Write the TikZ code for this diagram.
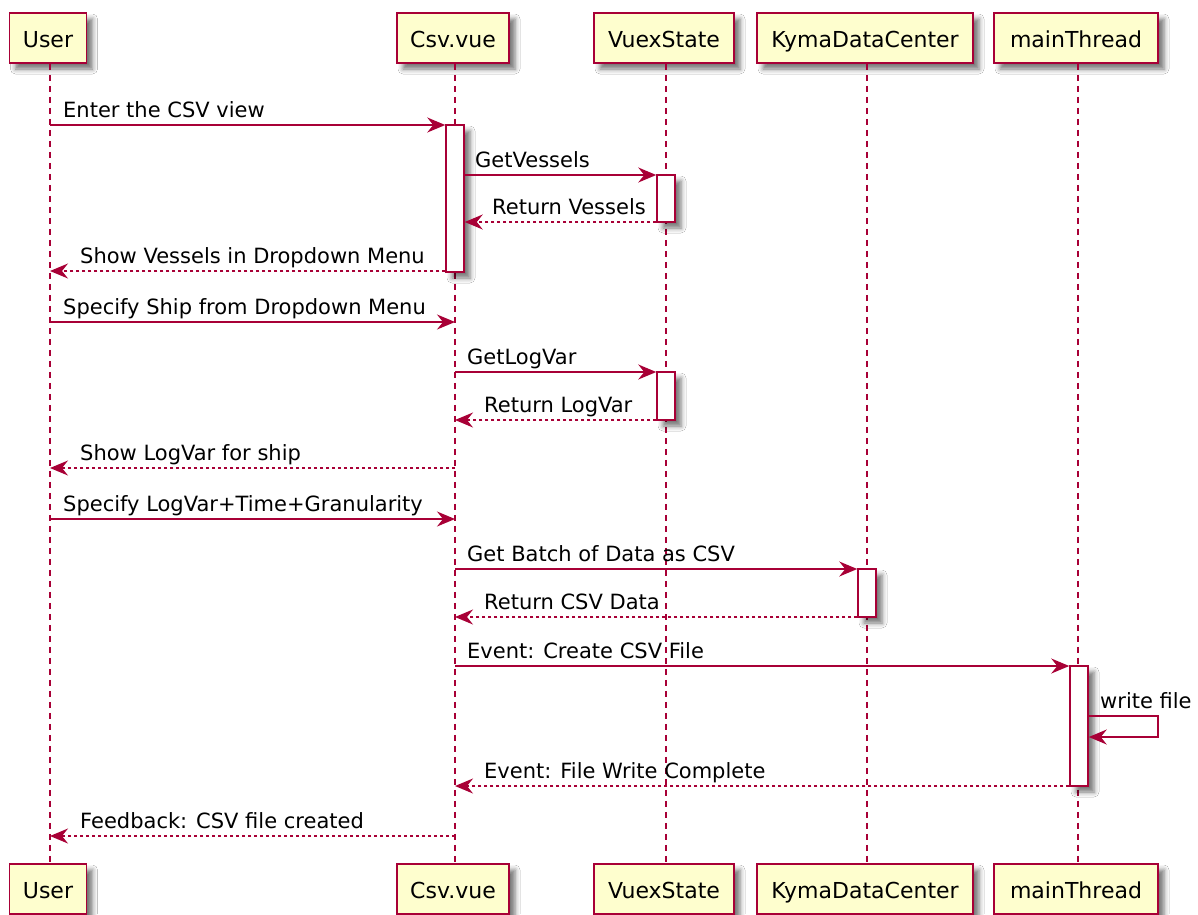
\documentclass[tikz,border=0pt]{standalone}
\usepackage{fontspec}
\setmainfont{DejaVu Sans}
\usetikzlibrary{arrows.meta,shadows.blur}
\definecolor{pborder}{HTML}{A80036}
\definecolor{pfill}{HTML}{FEFECE}
\begin{document}
\begin{tikzpicture}[x=1pt,y=-1pt,
  shad/.style={blur shadow={shadow xshift=6pt, shadow yshift=-6pt, shadow blur radius=5pt, shadow opacity=55}},
  part/.style={shad, draw=pborder, fill=pfill, line width=1.8pt, minimum height=50pt, inner sep=0pt, text height=20pt, text depth=2pt, font=\fontsize{22}{26}\selectfont},
  act/.style={shad, draw=pborder, fill=white, line width=1.5pt, minimum width=18pt, inner sep=0pt},
  life/.style={draw=pborder, line width=1.5pt, dash pattern=on 6pt off 5pt},
  msg/.style={draw=pborder, line width=1.5pt, -{Stealth[length=18pt,width=15pt,inset=6pt]}},
  ret/.style={msg, dash pattern=on 3pt off 3pt},
  lbl/.style={inner sep=0pt, font=\fontsize{21}{24}\selectfont}
]
\fill[white] (0,0) rectangle (1198,914);
\useasboundingbox (0,0) rectangle (1198,914);
% participants
\node[part, minimum width=77pt]  (u)  at (48,38)   {User};
\node[part, minimum width=112pt] (c)  at (453,38)  {Csv.vue};
\node[part, minimum width=140pt] (v)  at (664,38)  {VuexState};
\node[part, minimum width=216pt] (k)  at (865,38)  {KymaDataCenter};
\node[part, minimum width=164pt] (m)  at (1076,38) {mainThread};
\node[part, minimum width=77pt]  (ub) at (48,889)   {User};
\node[part, minimum width=112pt] (cb) at (453,889)  {Csv.vue};
\node[part, minimum width=140pt] (vb) at (664,889)  {VuexState};
\node[part, minimum width=216pt] (kb) at (865,889)  {KymaDataCenter};
\node[part, minimum width=164pt] (mb) at (1076,889) {mainThread};
% lifelines
\draw[life] (u.south -| 50,0) -- (ub.north -| 50,0);
\draw[life] (c.south -| 455,0) -- (cb.north -| 455,0);
\draw[life] (v.south -| 666,0) -- (vb.north -| 666,0);
\draw[life] (k.south -| 867,0) -- (kb.north -| 867,0);
\draw[life] (m.south -| 1078,0) -- (mb.north -| 1078,0);
% activations
\node[act, minimum height=147pt] (a1) at (455,198.5) {};
\node[act, minimum height=47pt]  (a2) at (666,198.5) {};
\node[act, minimum height=48pt]  (a3) at (666,396) {};
\node[act, minimum height=48pt]  (a4) at (867,593) {};
\node[act, minimum height=120pt] (a5) at (1079,726) {};
% messages
\draw[msg] (50,125) -- (a1.west |- 0,125);
\node[lbl, anchor=base west] at (63,117) {Enter the CSV view};
\draw[msg] (a1.east |- 0,175) -- (a2.west |- 0,175);
\node[lbl, anchor=base west] at (475,167) {GetVessels};
\draw[ret] (a2.west |- 0,222) -- (a1.east |- 0,222);
\node[lbl, anchor=base west] at (492,214) {Return Vessels};
\draw[ret] (a1.west |- 0,271) -- (50,271);
\node[lbl, anchor=base west] at (80,263) {Show Vessels in Dropdown Menu};
\draw[msg] (50,322) -- (455,322);
\node[lbl, anchor=base west] at (63,314) {Specify Ship from Dropdown Menu};
\draw[msg] (455,372) -- (a3.west |- 0,372);
\node[lbl, anchor=base west] at (467,364) {GetLogVar};
\draw[ret] (a3.west |- 0,420) -- (455,420);
\node[lbl, anchor=base west] at (484,412) {Return LogVar};
\draw[ret] (455,468) -- (50,468);
\node[lbl, anchor=base west] at (80,460) {Show LogVar for ship};
\draw[msg] (50,519) -- (455,519);
\node[lbl, anchor=base west] at (63,511) {Specify LogVar+Time+Granularity};
\draw[msg] (455,569) -- (a4.west |- 0,569);
\node[lbl, anchor=base west] at (467,561) {Get Batch of Data as CSV};
\draw[ret] (a4.west |- 0,617) -- (455,617);
\node[lbl, anchor=base west] at (484,609) {Return CSV Data};
\draw[msg] (455,666) -- (a5.west |- 0,666);
\node[lbl, anchor=base west] at (467,658) {Event: Create CSV File};
\draw[msg] (a5.east |- 0,716) -- (1158,716) -- (1158,737) -- (a5.east |- 0,737);
\node[lbl, anchor=base west] at (1100,708) {write file};
\draw[ret] (a5.west |- 0,786) -- (455,786);
\node[lbl, anchor=base west] at (484,778) {Event: File Write Complete};
\draw[ret] (455,836) -- (50,836);
\node[lbl, anchor=base west] at (80,828) {Feedback: CSV file created};
\end{tikzpicture}
\end{document}
